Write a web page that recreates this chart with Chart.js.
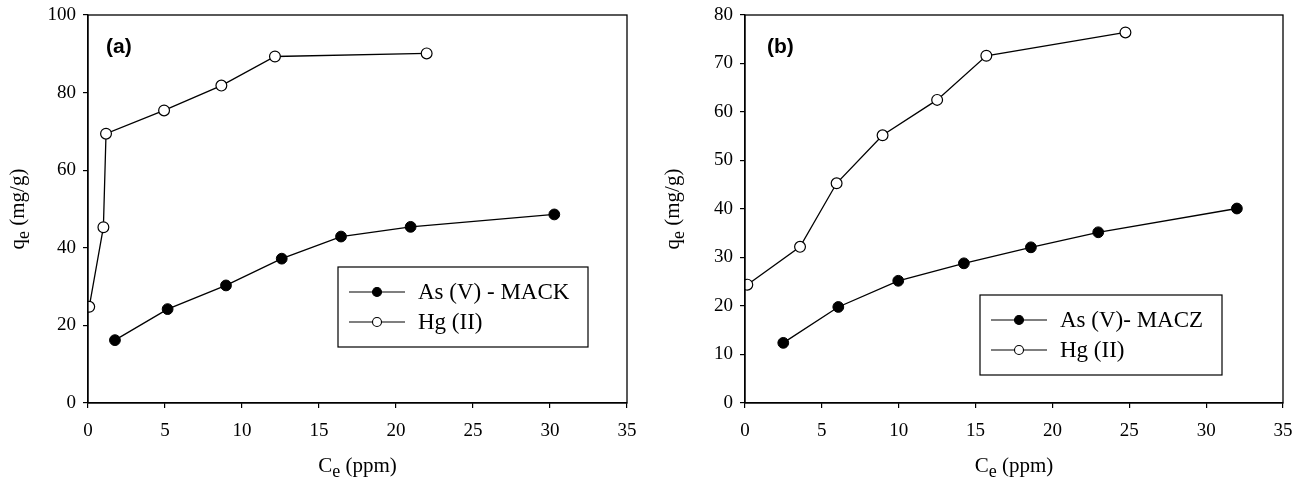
<!DOCTYPE html>
<html>
<head>
<meta charset="utf-8">
<script src="https://cdn.jsdelivr.net/npm/chart.js"></script>
<style>
  html, body { margin: 0; padding: 0; background: #fff; }
  #wrap { position: relative; width: 1305px; height: 482px; }
  .cv { position: absolute; top: 0; }
</style>
</head>
<body>
<div id="wrap">
  <canvas id="c1" class="cv" width="652" height="482" style="left:0px;width:652px;height:482px"></canvas>
  <canvas id="c2" class="cv" width="653" height="482" style="left:652px;width:653px;height:482px"></canvas>
</div>
<script>
// ---- Data: panel (a) ----
const aHgCe = [0.08, 1.0, 1.17, 4.94, 8.66, 12.14, 21.99];
const aHgQe = [24.8, 45.3, 69.4, 75.4, 81.8, 89.3, 90.1];
const aAsCe = [1.75, 5.17, 8.96, 12.58, 16.43, 20.95, 30.28];
const aAsQe = [16.2, 24.2, 30.3, 37.2, 42.9, 45.4, 48.6];
// ---- Data: panel (b) ----
const bHgCe = [0.15, 3.58, 5.96, 8.95, 12.5, 15.7, 24.75];
const bHgQe = [24.4, 32.2, 45.3, 55.2, 62.5, 71.6, 76.4];
const bAsCe = [2.49, 6.07, 9.97, 14.24, 18.6, 22.98, 32.0];
const bAsQe = [12.4, 19.8, 25.2, 28.8, 32.1, 35.2, 40.1];

const labelsA = ['As (V) - MACK', 'Hg (II)'];
const labelsB = ['As (V)- MACZ', 'Hg (II)'];
const xTicks = [0, 5, 10, 15, 20, 25, 30, 35];
const yTicksA = [0, 20, 40, 60, 80, 100];
const yTicksB = [0, 10, 20, 30, 40, 50, 60, 70, 80];

const pts = (xs, ys) => xs.map((x, i) => ({ x: x, y: ys[i] }));
const SERIF = "'Liberation Serif', 'Times New Roman', serif";

function drawSubText(ctx, parts, x, y, rotate) {
  ctx.save();
  ctx.translate(x, y);
  if (rotate) ctx.rotate(-Math.PI / 2);
  let total = 0;
  parts.forEach(p => { ctx.font = p[1] + 'px ' + SERIF; total += ctx.measureText(p[0]).width; });
  let cx = -total / 2;
  ctx.fillStyle = '#000';
  ctx.textBaseline = 'alphabetic';
  ctx.textAlign = 'left';
  parts.forEach(p => {
    ctx.font = p[1] + 'px ' + SERIF;
    ctx.fillText(p[0], cx, p[2]);
    cx += ctx.measureText(p[0]).width;
  });
  ctx.restore();
}

function makeDecor(cfg) {
  return {
    id: 'decor',
    afterDraw(chart) {
      const ctx = chart.ctx;
      const a = chart.chartArea;
      ctx.save();
      ctx.strokeStyle = '#000';
      ctx.lineWidth = 1.3;
      ctx.strokeRect(a.left, a.top, a.right - a.left, a.bottom - a.top);
      ctx.font = "bold 21px 'Liberation Sans', Arial, sans-serif";
      ctx.fillStyle = '#000';
      ctx.textAlign = 'left';
      ctx.textBaseline = 'middle';
      ctx.fillText(cfg.tag, a.left + cfg.tagDx, a.top + 32);
      drawSubText(ctx, [['C', 21, 0], ['e', 18, 5], [' (ppm)', 21, 0]], (a.left + a.right) / 2, 472, false);
      drawSubText(ctx, [['q', 21, 0], ['e', 18, 5], [' (mg/g)', 21, 0]], cfg.yTitleX + 6, (a.top + a.bottom) / 2, true);
      const L = cfg.legend;
      ctx.lineWidth = 1.2;
      ctx.strokeStyle = '#000';
      ctx.strokeRect(L.x, L.y, L.w, L.h);
      chart.data.datasets.forEach((ds, i) => {
        const ry = L.y + L.row0 + i * 30;
        ctx.beginPath();
        ctx.lineWidth = 1.2;
        ctx.moveTo(L.x + L.l0, ry);
        ctx.lineTo(L.x + L.l1, ry);
        ctx.stroke();
        ctx.beginPath();
        ctx.arc(L.x + (L.l0 + L.l1) / 2, ry, 4.5, 0, Math.PI * 2);
        ctx.fillStyle = ds.pointBackgroundColor;
        ctx.fill();
        ctx.lineWidth = 1.1;
        ctx.stroke();
        ctx.fillStyle = '#000';
        ctx.font = '23px ' + SERIF;
        ctx.textAlign = 'left';
        ctx.textBaseline = 'middle';
        ctx.fillText(ds.label, L.x + L.tx, ry + 1);
      });
      ctx.restore();
    }
  };
}

function makeChart(id, asPts, hgPts, labels, yMax, yTicks, layout) {
  return new Chart(document.getElementById(id), {
    type: 'scatter',
    data: {
      datasets: [
        { label: labels[0], data: asPts, showLine: true, borderColor: '#000', borderWidth: 1.3,
          pointBackgroundColor: '#000', pointBorderColor: '#000', pointRadius: 5.4, pointBorderWidth: 1 },
        { label: labels[1], data: hgPts, showLine: true, borderColor: '#000', borderWidth: 1.3,
          pointBackgroundColor: '#fff', pointBorderColor: '#000', pointRadius: 5.4, pointBorderWidth: 1.2 }
      ]
    },
    options: {
      responsive: false,
      animation: false,
      events: [],
      layout: { padding: { left: 0, top: layout.top, right: layout.right, bottom: 0 } },
      plugins: { legend: { display: false }, tooltip: { enabled: false } },
      scales: {
        x: {
          type: 'linear', min: 0, max: 35,
          afterFit(s) { s.height = layout.xH; s.paddingLeft = 0; s.paddingRight = 0; },
          afterBuildTicks(s) { s.ticks = xTicks.map(v => ({ value: v })); },
          ticks: { color: '#000', font: { family: SERIF, size: 19 }, padding: 12, maxRotation: 0 },
          grid: { display: true, drawOnChartArea: false, drawTicks: true, tickLength: 5, color: '#000', lineWidth: 1.2 },
          border: { display: true, color: '#000', width: 1.3 }
        },
        y: {
          type: 'linear', min: 0, max: yMax,
          afterFit(s) { s.width = layout.yW; s.paddingTop = 0; s.paddingBottom = 0; },
          afterBuildTicks(s) { s.ticks = yTicks.map(v => ({ value: v })); },
          ticks: { color: '#000', font: { family: SERIF, size: 19 }, padding: 7 },
          grid: { display: true, drawOnChartArea: false, drawTicks: true, tickLength: 5, color: '#000', lineWidth: 1.2 },
          border: { display: true, color: '#000', width: 1.3 }
        }
      }
    },
    plugins: [makeDecor(layout.decor)]
  });
}

makeChart('c1', pts(aAsCe, aAsQe), pts(aHgCe, aHgQe), labelsA, 100, yTicksA,
  { top: 15, right: 25, xH: 79, yW: 88,
    decor: { tag: '(a)', tagDx: 18, yTitleX: 18,
      legend: { x: 338, y: 267, w: 250, h: 80, row0: 25, l0: 11, l1: 67, tx: 80 } } });

makeChart('c2', pts(bAsCe, bAsQe), pts(bHgCe, bHgQe), labelsB, 80, yTicksB,
  { top: 15, right: 22, xH: 79, yW: 93,
    decor: { tag: '(b)', tagDx: 22, yTitleX: 21,
      legend: { x: 328, y: 295, w: 242, h: 80, row0: 25, l0: 11, l1: 67, tx: 80 } } });
</script>
</body>
</html>
